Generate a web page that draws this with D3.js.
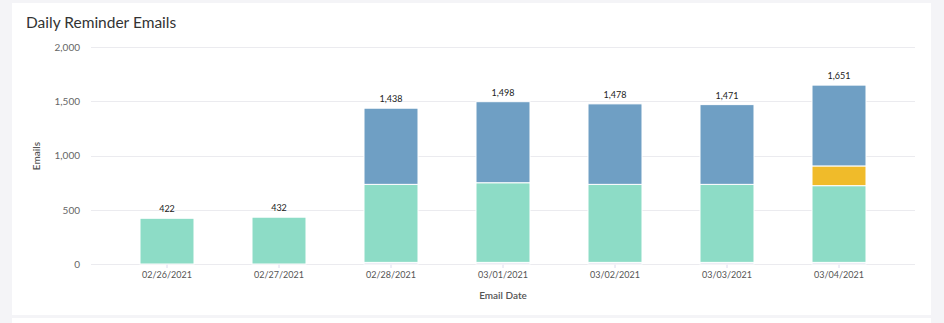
<!DOCTYPE html>
<html>
<head>
<meta charset="utf-8">
<script src="https://cdn.jsdelivr.net/npm/d3@7"></script>
<style>
  html, body { margin: 0; padding: 0; background: #f4f4f7; }
  svg { display: block; }
</style>
</head>
<body>
<svg id="chart" width="944" height="323"></svg>
<script>
// Daily reminder email volume, stacked by delivery status
const dates = ["02/26/2021", "02/27/2021", "02/28/2021", "03/01/2021", "03/02/2021", "03/03/2021", "03/04/2021"];
const failed    = [0,   0,   15,  15,  15,  15,  15];
const firstSend = [422, 432, 720, 735, 720, 720, 708];
const followUp  = [0,   0,   0,   0,   0,   0,   182];
const reminder  = [0,   0,   703, 748, 743, 736, 746];
const yTicks = [0, 500, 1000, 1500, 2000];

const seriesKeys = ["failed", "firstSend", "followUp", "reminder"];
const seriesColor = {
  failed: "#dcdcee",
  firstSend: "#8ddcc6",
  followUp: "#f0bb2a",
  reminder: "#6f9fc4"
};

const rows = dates.map((d, i) => ({
  date: d,
  failed: failed[i],
  firstSend: firstSend[i],
  followUp: followUp[i],
  reminder: reminder[i]
}));
const totals = rows.map(r => seriesKeys.reduce((s, k) => s + r[k], 0));

const svg = d3.select("#chart");
const font = "Lato, 'Open Sans', sans-serif";

// cards
svg.append("rect")
  .attr("x", 12).attr("y", 3).attr("width", 919).attr("height", 312)
  .attr("fill", "#ffffff");
svg.append("rect")
  .attr("x", 12).attr("y", 318).attr("width", 919).attr("height", 10)
  .attr("fill", "#ffffff");

svg.append("text")
  .attr("x", 26).attr("y", 28)
  .attr("font-family", font).attr("font-size", 15.5)
  .attr("fill", "#333")
  .text("Daily Reminder Emails");

const x = d3.scaleBand()
  .domain(dates)
  .range([111, 895])
  .paddingInner(0.518)
  .paddingOuter(0.259);

const y = d3.scaleLinear()
  .domain([0, 2000])
  .range([264, 47.3]);

// horizontal grid
svg.append("g")
  .selectAll("line")
  .data(yTicks)
  .join("line")
  .attr("x1", 91).attr("x2", 915)
  .attr("y1", d => Math.round(y(d)) + 0.5)
  .attr("y2", d => Math.round(y(d)) + 0.5)
  .attr("stroke", "#ebebef").attr("stroke-width", 1);

// y axis labels
const yAxis = d3.axisLeft(y).tickValues(yTicks).tickFormat(d3.format(",")).tickSize(0).tickPadding(0);
const yg = svg.append("g").attr("transform", "translate(80,0)").call(yAxis);
yg.select(".domain").remove();
yg.selectAll("text")
  .attr("font-family", font).attr("font-size", 10)
  .attr("fill", "#666");

// x axis
const xAxis = d3.axisBottom(x).tickSize(4).tickPadding(4);
const xg = svg.append("g").attr("transform", "translate(0,264)").call(xAxis);
xg.select(".domain").remove();
xg.selectAll(".tick line").attr("stroke", "#dcdcee");
xg.selectAll("text")
  .attr("font-family", font).attr("font-size", 9)
  .attr("fill", "#555");

// stacked bars
const stack = d3.stack().keys(seriesKeys);
const layers = stack(rows);

svg.append("g")
  .selectAll("g")
  .data(layers)
  .join("g")
  .attr("fill", d => seriesColor[d.key])
  .selectAll("rect")
  .data(d => d.filter(p => p[1] - p[0] > 0))
  .join("rect")
  .attr("x", p => x(p.data.date))
  .attr("width", x.bandwidth())
  .attr("y", p => y(p[1]))
  .attr("height", p => y(p[0]) - y(p[1]))
  .attr("stroke", "#ffffff")
  .attr("stroke-width", 1);

// total labels
svg.append("g")
  .selectAll("text")
  .data(rows)
  .join("text")
  .attr("x", (r) => x(r.date) + x.bandwidth() / 2)
  .attr("y", (r, i) => y(totals[i]) - 6)
  .attr("text-anchor", "middle")
  .attr("font-family", font).attr("font-size", 9)
  .attr("fill", "#222")
  .text((r, i) => d3.format(",")(totals[i]));

// axis titles
svg.append("text")
  .attr("x", 503).attr("y", 299)
  .attr("text-anchor", "middle")
  .attr("font-family", font).attr("font-size", 10).attr("font-weight", 600)
  .attr("fill", "#555")
  .text("Email Date");

svg.append("text")
  .attr("transform", "translate(40,156) rotate(-90)")
  .attr("text-anchor", "middle")
  .attr("font-family", font).attr("font-size", 10).attr("font-weight", 600)
  .attr("fill", "#555")
  .text("Emails");
</script>
</body>
</html>
